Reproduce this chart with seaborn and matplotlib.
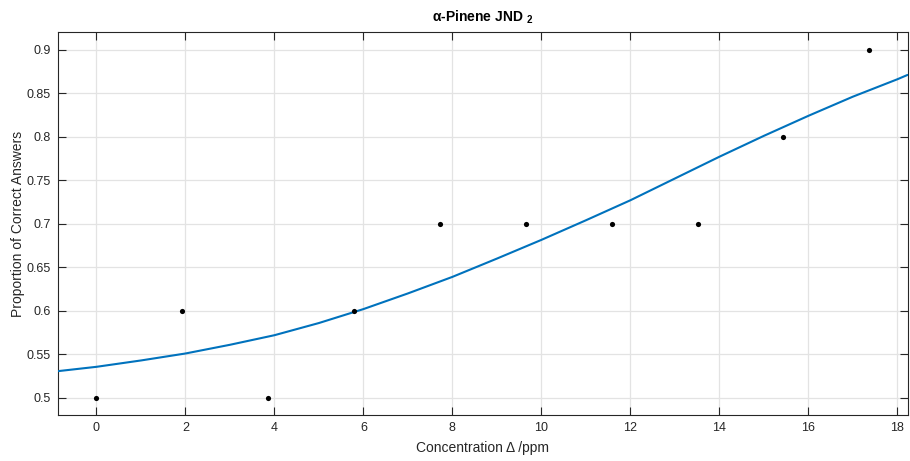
import matplotlib
matplotlib.use("Agg")
import matplotlib.pyplot as plt
import seaborn as sns
import pandas as pd
from matplotlib.ticker import FuncFormatter

# Data points
conc = [0.0, 1.93, 3.86, 5.79, 7.72, 9.65, 11.58, 13.51, 15.44, 17.37]
prop = [0.5, 0.6, 0.5, 0.6, 0.7, 0.7, 0.7, 0.7, 0.8, 0.9]

# Fitted curve
fit_x = [-0.87, 0, 1, 2, 3, 4, 5, 6, 7, 8, 9, 10, 11, 12, 13, 14, 15, 16, 17, 18, 18.23]
fit_y = [0.5307, 0.5357, 0.543, 0.551, 0.561, 0.572, 0.586, 0.602, 0.620, 0.639,
         0.660, 0.6815, 0.704, 0.727, 0.752, 0.777, 0.801, 0.824, 0.846, 0.866, 0.871]

x_ticks = [0, 2, 4, 6, 8, 10, 12, 14, 16, 18]
y_ticks = [0.5, 0.55, 0.6, 0.65, 0.7, 0.75, 0.8, 0.85, 0.9]

sns.set_theme(style="whitegrid")
plt.rcParams['font.family'] = ['Liberation Sans', 'DejaVu Sans']
plt.rcParams['mathtext.fontset'] = 'custom'
plt.rcParams['mathtext.rm'] = 'Liberation Sans'
plt.rcParams['mathtext.bf'] = 'Liberation Sans:bold'

fig = plt.figure(figsize=(9.10, 4.61), dpi=100)
ax = fig.add_axes([0.0634, 0.0991, 0.9344, 0.8309])
ax.set_facecolor('white')

df_fit = pd.DataFrame({"x": fit_x, "y": fit_y})
df_pts = pd.DataFrame({"x": conc, "y": prop})

sns.lineplot(data=df_fit, x="x", y="y", ax=ax, color="#0072BD", linewidth=1.5,
             sort=True, estimator=None, zorder=3)
sns.scatterplot(data=df_pts, x="x", y="y", ax=ax, color="black", s=14,
                edgecolor="black", linewidth=0, zorder=4)

ax.set_xlim(-0.87, 18.24)
ax.set_ylim(0.48, 0.92)
ax.set_xticks(x_ticks)
ax.set_yticks(y_ticks)
ax.yaxis.set_major_formatter(FuncFormatter(lambda v, p: f"{v:g}"))

ax.grid(True, color="#e3e3e3", linewidth=0.9)
for s in ax.spines.values():
    s.set_visible(True)
    s.set_color("#262626")
    s.set_linewidth(0.8)

ax.tick_params(axis='both', which='major', direction='in', length=6, width=0.8,
               color="#262626", labelcolor="#262626", labelsize=9,
               top=True, right=True, bottom=True, left=True, pad=5)

ax.set_xlabel("Concentration Δ /ppm", fontsize=10, color="#262626", labelpad=5)
ax.set_ylabel("Proportion of Correct Answers", fontsize=10, color="#262626", labelpad=1)
ax.set_title(r"α-Pinene JND $_\mathbf{2}$", fontsize=10, fontweight="bold",
             color="black", pad=8)

fig.savefig("out.png", dpi=100)
